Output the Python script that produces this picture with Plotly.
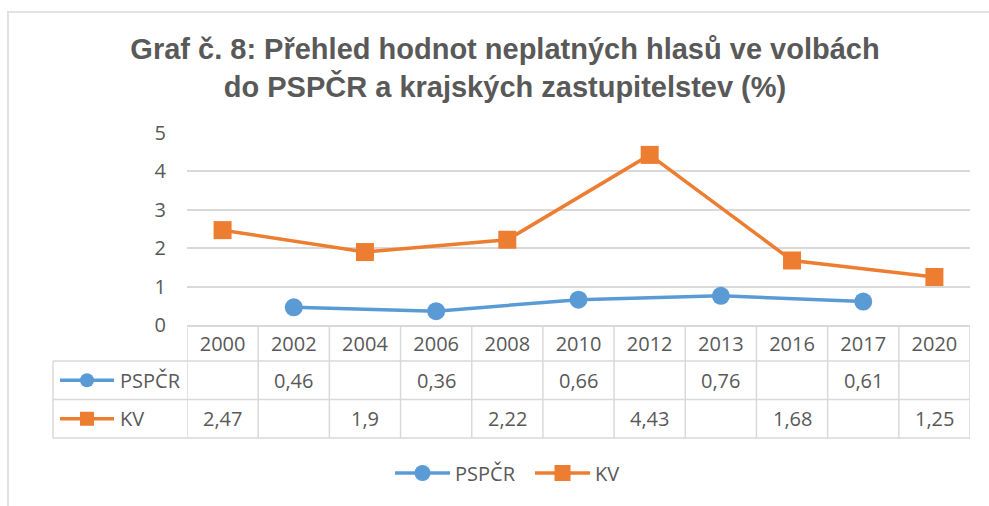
import plotly.graph_objects as go

# ---- data ----
years = ["2000", "2002", "2004", "2006", "2008", "2010", "2012", "2013", "2016", "2017", "2020"]
pspcr = [None, 0.46, None, 0.36, None, 0.66, None, 0.76, None, 0.61, None]
kv = [2.47, None, 1.9, None, 2.22, None, 4.43, None, 1.68, None, 1.25]
series_names = ["PSPČR", "KV"]
y_ticks = [0, 1, 2, 3, 4, 5]
title_text = "Graf č. 8: Přehled hodnot neplatných hlasů ve volbách<br>do PSPČR a krajských zastupitelstev (%)"

# ---- style ----
W, H = 989, 506
BLUE = "#5B9BD5"
ORANGE = "#ED7D31"
GRID = "#D9D9D9"
TXT = "#595959"
FONT = "Open Sans"


def px(x):
    return x / W


def py(y):
    return 1 - y / H


plot_left, plot_right = 187, 970
plot_top, plot_bottom = 133, 325
row1_bottom, row2_bottom, row3_bottom = 361, 399.5, 438
label_left = 53

fig = go.Figure()
fig.add_trace(go.Scatter(
    x=years, y=pspcr, name=series_names[0], mode="lines+markers", connectgaps=True,
    line=dict(color=BLUE, width=3.5), marker=dict(symbol="circle", size=18, color=BLUE),
))
fig.add_trace(go.Scatter(
    x=years, y=kv, name=series_names[1], mode="lines+markers", connectgaps=True,
    line=dict(color=ORANGE, width=3.5), marker=dict(symbol="square", size=18, color=ORANGE),
))


def fmt(v):
    return ("%g" % v).replace(".", ",")


shapes = []
annotations = []

# frame
shapes.append(dict(type="line", xref="paper", yref="paper", x0=px(7), x1=px(989), y0=py(12), y1=py(12),
                   line=dict(color=GRID, width=1.5)))
shapes.append(dict(type="line", xref="paper", yref="paper", x0=px(8), x1=px(8), y0=py(12), y1=py(506),
                   line=dict(color=GRID, width=1.5)))

# data table lines
for yy in [row1_bottom, row2_bottom, row3_bottom]:
    shapes.append(dict(type="line", xref="paper", yref="paper", x0=px(label_left), x1=px(plot_right),
                       y0=py(yy), y1=py(yy), line=dict(color=GRID, width=1.5)))
for k in range(len(years) + 1):
    shapes.append(dict(type="line", xref="x", yref="paper", x0=k - 0.5, x1=k - 0.5,
                       y0=py(plot_bottom), y1=py(row3_bottom), line=dict(color=GRID, width=1.5)))
shapes.append(dict(type="line", xref="paper", yref="paper", x0=px(label_left), x1=px(label_left),
                   y0=py(row1_bottom), y1=py(row3_bottom), line=dict(color=GRID, width=1.5)))

# row keys + labels + values
rows = [(series_names[0], pspcr, BLUE, "circle", (row1_bottom + row2_bottom) / 2),
        (series_names[1], kv, ORANGE, "square", (row2_bottom + row3_bottom) / 2)]
for name, vals, col, sym, cy in rows:
    shapes.append(dict(type="line", xref="paper", yref="paper", x0=px(60), x1=px(114), y0=py(cy), y1=py(cy),
                       line=dict(color=col, width=3.5)))
    r = 7
    shapes.append(dict(type="circle" if sym == "circle" else "rect", xref="paper", yref="paper",
                       x0=px(87 - r), x1=px(87 + r), y0=py(cy - r), y1=py(cy + r),
                       fillcolor=col, line=dict(color=col, width=0)))
    annotations.append(dict(xref="paper", yref="paper", x=px(118), y=py(cy), text=name, showarrow=False,
                            xanchor="left", yanchor="middle", font=dict(family=FONT, size=20, color=TXT)))
    for k, v in enumerate(vals):
        if v is not None:
            annotations.append(dict(xref="x", yref="paper", x=k, y=py(cy), text=fmt(v), showarrow=False,
                                    xanchor="center", yanchor="middle",
                                    font=dict(family=FONT, size=20, color=TXT)))

fig.update_layout(
    width=W, height=H,
    margin=dict(l=0, r=0, t=0, b=0, autoexpand=False),
    paper_bgcolor="white", plot_bgcolor="white",
    title=dict(text=title_text, x=px(505), xanchor="center", y=py(59), yanchor="middle",
               font=dict(family="Liberation Sans", size=29, color=TXT, weight="bold")),
    xaxis=dict(domain=[px(plot_left), px(plot_right)], type="category", categoryorder="array",
               categoryarray=years, range=[-0.5, len(years) - 0.5], showgrid=False, zeroline=False,
               showline=True, linecolor=GRID, linewidth=1.5, ticks="", ticklabelstandoff=0,
               automargin=False,
               tickfont=dict(family=FONT, size=20, color=TXT), fixedrange=True),
    yaxis=dict(domain=[py(plot_bottom), py(plot_top)], range=[0, 5], tickvals=y_ticks,
               showgrid=True, gridcolor=GRID, gridwidth=1.5, zeroline=False, showline=False,
               ticks="", ticklabelstandoff=20, automargin=False,
               tickfont=dict(family=FONT, size=20, color=TXT), fixedrange=True),
    showlegend=True,
    legend=dict(orientation="h", x=px(390), xanchor="left", y=py(473), yanchor="middle",
                font=dict(family=FONT, size=20, color=TXT), itemwidth=55, entrywidth=70,
                entrywidthmode="pixels", bgcolor="rgba(0,0,0,0)"),
    shapes=shapes,
    annotations=annotations,
)

fig.write_html("out.html", config={"displayModeBar": False},
               post_script="document.body.style.margin='0';")
